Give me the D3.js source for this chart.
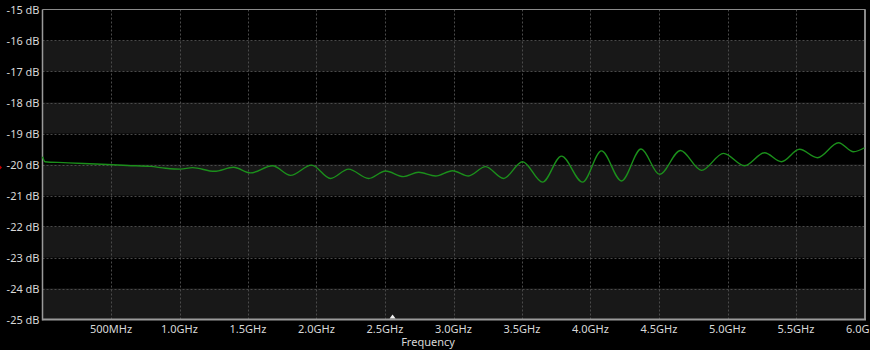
<!DOCTYPE html>
<html>
<head>
<meta charset="utf-8">
<script src="https://cdn.jsdelivr.net/npm/d3@7"></script>
<style>
  html, body { margin: 0; padding: 0; background: #000; }
  svg { display: block; }
  text { font-family: "Noto Sans", "Open Sans", sans-serif; }
</style>
</head>
<body>
<svg id="chart" width="870" height="350"></svg>
<script>
// Frequency in GHz
const freqGHz = [0.0, 0.018, 0.153, 0.299, 0.474, 0.620, 0.788, 0.898, 1.007, 1.095, 1.255, 1.394, 1.518, 1.679, 1.810, 1.964,
  2.102, 2.234, 2.380, 2.504, 2.635, 2.745, 2.869, 2.993, 3.109, 3.234, 3.365, 3.504, 3.650, 3.788, 3.942,
  4.080, 4.226, 4.369, 4.504, 4.657, 4.810, 4.971, 5.124, 5.270, 5.394, 5.526, 5.657, 5.810, 5.920, 6.0];
// Magnitude in dB
const magDB = [-19.75, -19.91, -19.94, -19.97, -20.00, -20.03, -20.06, -20.12, -20.15, -20.10, -20.22, -20.09, -20.27, -20.04, -20.35, -20.02,
  -20.45, -20.15, -20.45, -20.21, -20.39, -20.25, -20.37, -20.20, -20.37, -20.07, -20.45, -19.91, -20.57, -19.73, -20.57,
  -19.56, -20.53, -19.50, -20.32, -19.55, -20.19, -19.64, -20.04, -19.62, -19.91, -19.51, -19.78, -19.30, -19.59, -19.46];
const yTicks = [-15, -16, -17, -18, -19, -20, -21, -22, -23, -24, -25];
const xTicks = [0.5, 1.0, 1.5, 2.0, 2.5, 3.0, 3.5, 4.0, 4.5, 5.0, 5.5, 6.0];
const xTickLabels = ["500MHz", "1.0GHz", "1.5GHz", "2.0GHz", "2.5GHz", "3.0GHz", "3.5GHz", "4.0GHz", "4.5GHz", "5.0GHz", "5.5GHz", "6.0GHz"];
const markerGHz = 2.555;
const refLevelDB = -20.1;

const svg = d3.select("#chart");
const L = 42.5, R = 864.5, T = 9.5, B = 319.5;
const x = d3.scaleLinear().domain([0, 6]).range([L, R]);
const y = d3.scaleLinear().domain([-15, -25]).range([T, B]);

svg.append("rect").attr("width", 870).attr("height", 350).attr("fill", "#000");

// alternating bands
const bands = d3.range(-16, -25, -2);
svg.selectAll("rect.band").data(bands).enter().append("rect")
  .attr("class", "band")
  .attr("x", L).attr("width", R - L)
  .attr("y", d => y(d)).attr("height", d => y(d - 1) - y(d))
  .attr("fill", "#181818");

// gridlines
svg.selectAll("line.hg").data(yTicks.slice(1, -1)).enter().append("line")
  .attr("x1", L).attr("x2", R).attr("y1", d => Math.round(y(d)) + 0.5).attr("y2", d => Math.round(y(d)) + 0.5)
  .attr("stroke", "#4a4a4a").attr("stroke-dasharray", "2,2").attr("stroke-width", 1);
svg.selectAll("line.vg").data(xTicks.slice(0, -1)).enter().append("line")
  .attr("y1", T).attr("y2", B).attr("x1", d => Math.round(x(d)) + 0.5).attr("x2", d => Math.round(x(d)) + 0.5)
  .attr("stroke", "#4a4a4a").attr("stroke-dasharray", "2,2").attr("stroke-width", 1);

// frame
svg.append("line").attr("x1", L).attr("x2", R + 1).attr("y1", T).attr("y2", T).attr("stroke", "#8a8a8a").attr("stroke-width", 1);
svg.append("line").attr("x1", R + 0.5).attr("x2", R + 0.5).attr("y1", T).attr("y2", B).attr("stroke", "#8a8a8a").attr("stroke-width", 2);
svg.append("line").attr("x1", L).attr("x2", L).attr("y1", T).attr("y2", B + 1).attr("stroke", "#9a9a9a").attr("stroke-width", 1.5);
svg.append("line").attr("x1", L).attr("x2", R + 1.5).attr("y1", B).attr("y2", B).attr("stroke", "#9a9a9a").attr("stroke-width", 2);

// y labels
svg.selectAll("text.yl").data(yTicks).enter().append("text")
  .attr("x", L - 3).attr("y", d => y(d) + 4)
  .attr("text-anchor", "end").attr("font-size", 11).attr("fill", "#d8d8d8")
  .text(d => d + " dB");

// x labels
svg.selectAll("text.xl").data(xTicks).enter().append("text")
  .attr("x", d => x(d)).attr("y", 333)
  .attr("text-anchor", "middle").attr("font-size", 11).attr("fill", "#d8d8d8")
  .text((d, i) => xTickLabels[i]);

svg.append("text").attr("x", 428).attr("y", 346).attr("text-anchor", "middle")
  .attr("font-size", 11).attr("fill", "#d8d8d8").text("Frequency");

// marker triangle
const mx = x(markerGHz);
svg.append("path").attr("d", `M${mx - 3},${B - 1} L${mx + 3},${B - 1} L${mx},${B - 5} Z`).attr("fill", "#f0f0f0");
// reference level marker
const ry = y(refLevelDB);
svg.append("path").attr("d", `M0,${ry - 2} L2,${ry} L0,${ry + 2} Z`).attr("fill", "#c00000");

// curve
const data = freqGHz.map((f, i) => [f, magDB[i]]);
const line = d3.line().x(d => x(d[0])).y(d => y(d[1])).curve(d3.curveMonotoneX);
svg.append("path").datum(data).attr("d", line)
  .attr("fill", "none").attr("stroke", "#1b8f1b").attr("stroke-width", 1.4);
</script>
</body>
</html>
